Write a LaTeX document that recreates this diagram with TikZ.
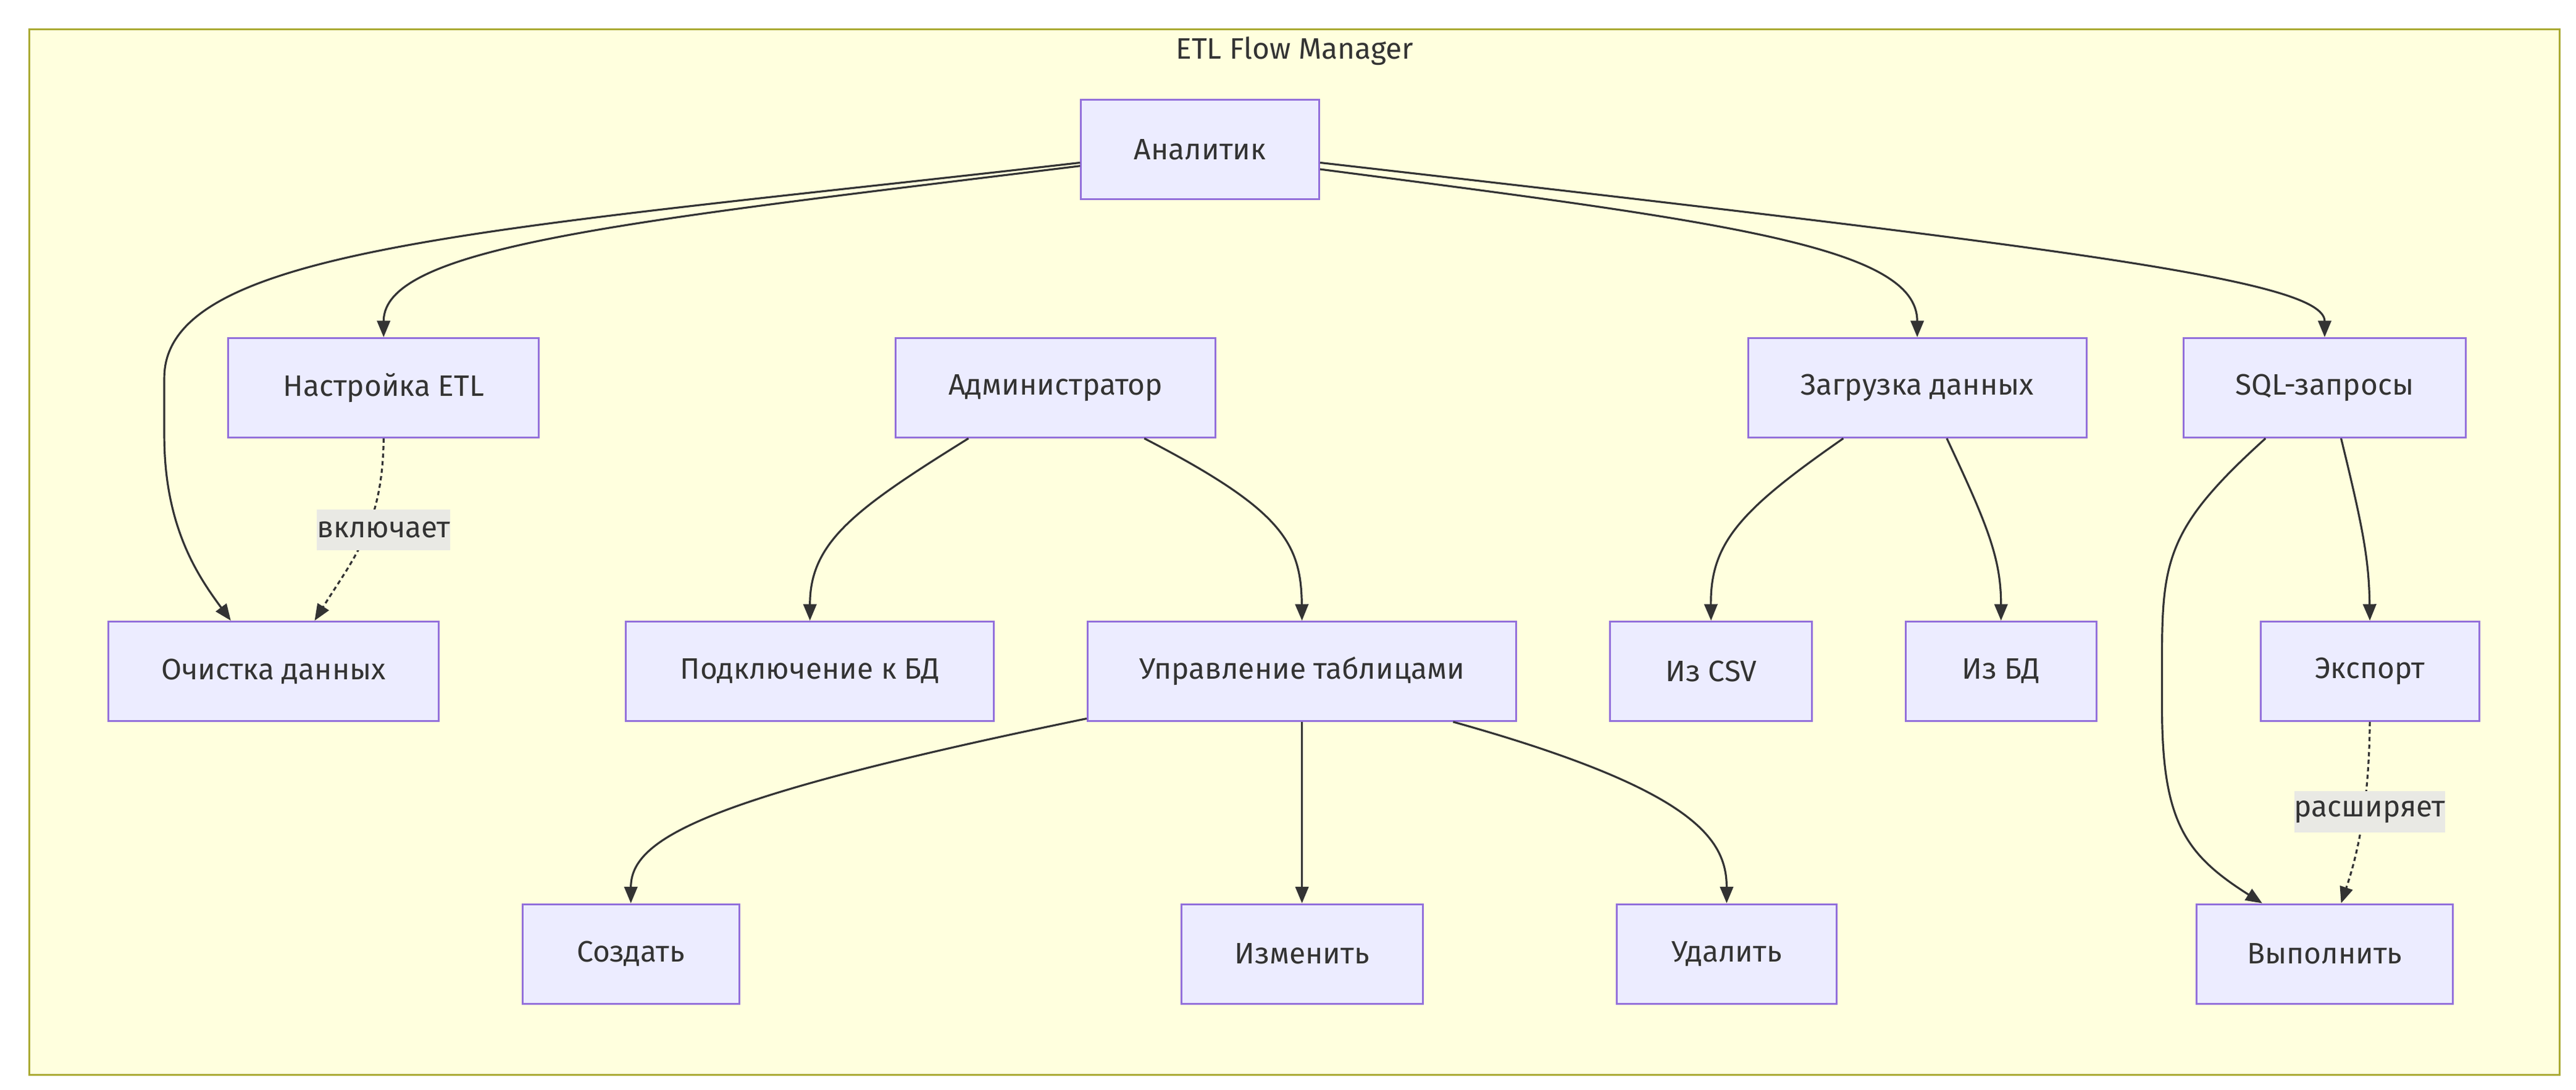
\documentclass[tikz,border=0pt]{standalone}
\usepackage{fontspec}
\setmainfont{Fira Sans}
\usetikzlibrary{arrows.meta}
\definecolor{bgyellow}{HTML}{FFFFDE}
\definecolor{frameol}{HTML}{AAAA33}
\definecolor{nodefill}{HTML}{ECECFF}
\definecolor{nodeline}{HTML}{9370DB}
\definecolor{edgeline}{HTML}{333333}
\definecolor{lblfill}{HTML}{E9E9E4}
\tikzset{
    box/.style={draw=nodeline,fill=nodefill,line width=1.1pt,minimum height=60.5pt,inner sep=0pt,text=edgeline,font=\fontsize{18}{22}\selectfont},
    lbl/.style={fill=lblfill,inner xsep=0pt,inner ysep=2pt,minimum height=25pt,text=edgeline,font=\fontsize{18}{22}\selectfont},
    edge/.style={draw=edgeline,line width=1.2pt,-{Triangle[length=10pt,width=8pt]}},
    dotedge/.style={edge,dash pattern=on 2.6pt off 2pt}
}
\begin{document}
\begin{tikzpicture}[x=1pt,y=-1pt]
    \useasboundingbox (0,0) rectangle (1568,663);
    \node[draw=frameol,fill=bgyellow,line width=1.1pt,minimum width=1540pt,minimum height=636pt,inner sep=0pt] (frame) at (788,336) {};
    \node[text=edgeline,font=\fontsize{18}{21}\selectfont] (title) at (788,31) {ETL Flow Manager};
    \node[box,minimum width=145pt] (an) at (730.5,91) {Аналитик};
    \node[box,minimum width=189pt] (ns) at (233.5,236) {Настройка ETL};
    \node[box,minimum width=195pt] (ad) at (642.5,236) {Администратор};
    \node[box,minimum width=206pt] (lo) at (1167,236) {Загрузка данных};
    \node[box,minimum width=172pt] (sq) at (1415,236) {SQL-запросы};
    \node[box,minimum width=201pt] (oc) at (166.5,408.5) {Очистка данных};
    \node[box,minimum width=224pt] (pd) at (493,408.5) {Подключение к БД};
    \node[box,minimum width=261pt] (ut) at (792.5,408.5) {Управление таблицами};
    \node[box,minimum width=123pt] (csv) at (1041.5,408.5) {Из CSV};
    \node[box,minimum width=116pt] (fdb) at (1218,408.5) {Из БД};
    \node[box,minimum width=133pt] (ex) at (1442.5,408.5) {Экспорт};
    \node[box,minimum width=132pt] (cr) at (384,580.5) {Создать};
    \node[box,minimum width=147pt] (mo) at (792.5,580.5) {Изменить};
    \node[box,minimum width=134pt] (de) at (1051,580.5) {Удалить};
    \node[box,minimum width=156pt] (ru) at (1415,580.5) {Выполнить};

    \draw[edge] ([yshift=-8pt]an.west) .. controls (300,140) and (100,150) .. (100,230) -- (100,265) .. controls (100,320) and (120,350) .. ([xshift=-26pt]oc.north);
    \draw[edge] ([yshift=-10pt]an.west) .. controls (380,135) and (ns.north |- 0,150) .. (ns.north);
    \draw[edge] ([yshift=-12pt]an.east) .. controls (1050,135) and (lo.north |- 0,150) .. (lo.north);
    \draw[edge] ([yshift=-8pt]an.east) .. controls (1250,150) and (sq.north |- 0,170) .. (sq.north);
    \draw[dotedge] (ns.south) .. controls (233,320) and (215,340) .. ([xshift=25pt]oc.north);
    \draw[edge] ([xshift=-53pt]ad.south) .. controls (520,310) and (493,330) .. (pd.north);
    \draw[edge] ([xshift=54pt]ad.south) .. controls (780,310) and (792,330) .. (ut.north);
    \draw[edge] ([xshift=-45pt]lo.south) .. controls (1060,310) and (1041,330) .. (csv.north);
    \draw[edge] ([xshift=18pt]lo.south) .. controls (1210,320) and (1218,340) .. (fdb.north);
    \draw[edge] ([xshift=10pt]sq.south) .. controls (1438,320) and (1442,340) .. (ex.north);
    \draw[edge] ([xshift=-36pt]sq.south) .. controls (1320,320) and (1316,340) .. (1316,400) -- (1316,430) .. controls (1316,500) and (1330,520) .. ([xshift=-38pt]ru.north);
    \draw[edge] ([yshift=2pt]ut.south west) .. controls (430,485) and (384,510) .. (cr.north);
    \draw[edge] (ut.south) -- (mo.north);
    \draw[edge] ([xshift=92pt]ut.south) .. controls (1030,480) and (1051,510) .. (de.north);
    \draw[dotedge] (ex.south) .. controls (1442,490) and (1435,520) .. ([xshift=10pt]ru.north);
    \node[lbl] (inc) at (233.5,322.5) {включает};
    \node[lbl] (ext) at (1442.5,494) {расширяет};
\end{tikzpicture}
\end{document}
